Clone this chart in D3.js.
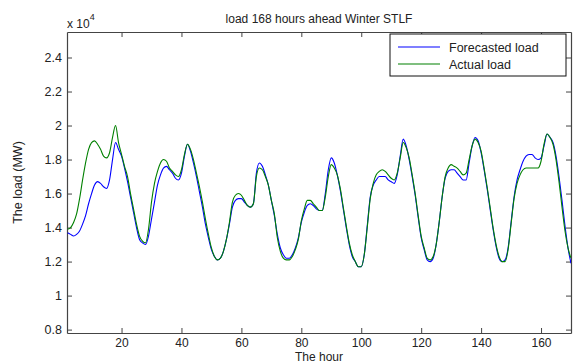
<!DOCTYPE html>
<html>
<head>
<meta charset="utf-8">
<script src="https://cdn.jsdelivr.net/npm/d3@7"></script>
<style>
  body { margin: 0; background: #fff; }
  text { font-family: "Liberation Sans", Arial, sans-serif; fill: #222; }
</style>
</head>
<body>
<div id="chart"></div>
<script>
// hours 2..170, load in units of 10^4 MW
const hours = d3.range(2, 171);

const forecastLoad = [
  1.37, 1.36, 1.35, 1.36, 1.38, 1.42, 1.47, 1.54, 1.60, 1.65, 1.67, 1.66, 1.64, 1.63, 1.68, 1.80, 1.90, 1.86, 1.82,
  1.75, 1.67, 1.58, 1.49, 1.40, 1.33, 1.31, 1.30, 1.35, 1.45, 1.55, 1.65, 1.71, 1.75, 1.76, 1.74, 1.72, 1.69, 1.68,
  1.72, 1.82, 1.89, 1.85, 1.78, 1.70, 1.61, 1.52, 1.42, 1.34, 1.27, 1.23, 1.21, 1.22, 1.26, 1.33, 1.42, 1.52, 1.56,
  1.57, 1.57, 1.55, 1.53, 1.52, 1.54, 1.72, 1.78, 1.76, 1.71, 1.65, 1.56, 1.47, 1.36, 1.28, 1.24, 1.22, 1.22, 1.24,
  1.28, 1.34, 1.43, 1.49, 1.53, 1.54, 1.53, 1.51, 1.50, 1.50, 1.60, 1.74, 1.81, 1.78, 1.71, 1.62, 1.51, 1.40, 1.30,
  1.23, 1.20, 1.17, 1.17, 1.24, 1.41, 1.58, 1.65, 1.68, 1.70, 1.70, 1.70, 1.68, 1.67, 1.66, 1.71, 1.82, 1.92, 1.88,
  1.80, 1.70, 1.59, 1.46, 1.34, 1.27, 1.21, 1.20, 1.22, 1.30, 1.43, 1.58, 1.69, 1.73, 1.74, 1.74, 1.72, 1.70, 1.68,
  1.68, 1.78, 1.88, 1.93, 1.91, 1.84, 1.74, 1.63, 1.51, 1.39, 1.29, 1.22, 1.20, 1.21, 1.28, 1.43, 1.58, 1.68, 1.74,
  1.79, 1.82, 1.83, 1.83, 1.81, 1.80, 1.81, 1.88, 1.95, 1.93, 1.90, 1.82, 1.70, 1.56, 1.41, 1.28, 1.19
];

const actualLoad = [
  1.39, 1.40, 1.43, 1.48, 1.57, 1.68, 1.78, 1.86, 1.90, 1.91, 1.89, 1.86, 1.82, 1.81, 1.84, 1.93, 2.00, 1.90, 1.83,
  1.76, 1.70, 1.60, 1.51, 1.42, 1.35, 1.32, 1.31, 1.39, 1.55, 1.66, 1.73, 1.78, 1.80, 1.79, 1.75, 1.73, 1.71, 1.70,
  1.74, 1.83, 1.89, 1.86, 1.80, 1.72, 1.64, 1.55, 1.45, 1.36, 1.28, 1.23, 1.21, 1.22, 1.26, 1.33, 1.43, 1.55, 1.59,
  1.60, 1.59, 1.56, 1.53, 1.52, 1.54, 1.70, 1.75, 1.74, 1.70, 1.65, 1.56, 1.48, 1.34, 1.26, 1.22, 1.21, 1.21, 1.23,
  1.27, 1.33, 1.44, 1.51, 1.56, 1.56, 1.54, 1.52, 1.50, 1.50, 1.58, 1.70, 1.77, 1.75, 1.71, 1.63, 1.52, 1.41, 1.31,
  1.24, 1.20, 1.17, 1.17, 1.24, 1.40, 1.57, 1.66, 1.71, 1.73, 1.74, 1.73, 1.71, 1.69, 1.68, 1.72, 1.81, 1.90, 1.87,
  1.81, 1.71, 1.60, 1.47, 1.35, 1.28, 1.22, 1.21, 1.23, 1.30, 1.43, 1.58, 1.70, 1.75, 1.77, 1.76, 1.75, 1.73, 1.71,
  1.72, 1.80, 1.88, 1.92, 1.90, 1.85, 1.75, 1.64, 1.52, 1.40, 1.30, 1.23, 1.20, 1.20, 1.27, 1.42, 1.57, 1.66, 1.71,
  1.74, 1.75, 1.75, 1.75, 1.75, 1.75, 1.79, 1.89, 1.95, 1.93, 1.89, 1.80, 1.67, 1.52, 1.38, 1.28, 1.22
];

const xTicks = [20, 40, 60, 80, 100, 120, 140, 160];
const yTicks = [0.8, 1, 1.2, 1.4, 1.6, 1.8, 2, 2.2, 2.4];
const seriesNames = ['Forecasted load', 'Actual load'];
const seriesColors = ['#0000ff', '#008000'];

const W = 573, H = 364;
const margin = { top: 32, right: 2, bottom: 31, left: 67 };
const width = W - margin.left - margin.right;
const height = H - margin.top - margin.bottom;

const svg = d3.select('#chart').append('svg')
  .attr('width', W)
  .attr('height', H);

const g = svg.append('g')
  .attr('transform', `translate(${margin.left},${margin.top})`);

const x = d3.scaleLinear().domain([1.8, 170]).range([0, width]);
const y = d3.scaleLinear().domain([0.78, 2.55]).range([height, 0]);

// clip for the lines
svg.append('defs').append('clipPath').attr('id', 'clip')
  .append('rect').attr('width', width).attr('height', height);

const fmt = d => d3.format('~g')(d);

// bottom + top axes, ticks pointing inward
const xAxis = g.append('g')
  .attr('transform', `translate(0,${height})`)
  .call(d3.axisBottom(x).tickValues(xTicks).tickSizeInner(-5).tickSizeOuter(0).tickPadding(5).tickFormat(fmt));
g.append('g')
  .call(d3.axisTop(x).tickValues(xTicks).tickSizeInner(-5).tickSizeOuter(0).tickFormat(''));

const yAxis = g.append('g')
  .call(d3.axisLeft(y).tickValues(yTicks).tickSizeInner(-5).tickSizeOuter(0).tickPadding(5).tickFormat(fmt));
g.append('g')
  .attr('transform', `translate(${width},0)`)
  .call(d3.axisRight(y).tickValues(yTicks).tickSizeInner(-5).tickSizeOuter(0).tickFormat(''));

g.selectAll('.domain').attr('stroke', '#444').attr('stroke-width', 1.2);
g.selectAll('.tick line').attr('stroke', '#444');
g.selectAll('.tick text')
  .style('font-family', '"Liberation Sans", Arial, sans-serif')
  .attr('fill', '#222');
xAxis.selectAll('.tick text').style('font-size', '12px');
yAxis.selectAll('.tick text').style('font-size', '12.5px');

// lines
const line = d3.line()
  .x((d, i) => x(hours[i]))
  .y(d => y(d))
  .curve(d3.curveMonotoneX);

const plot = g.append('g').attr('clip-path', 'url(#clip)');
[forecastLoad, actualLoad].forEach((vals, k) => {
  plot.append('path')
    .datum(vals)
    .attr('fill', 'none')
    .attr('stroke', seriesColors[k])
    .attr('stroke-width', 1.1)
    .attr('d', line);
});

// title
svg.append('text')
  .attr('x', margin.left + width / 2)
  .attr('y', 23)
  .attr('text-anchor', 'middle')
  .style('font-size', '12px')
  .text('load 168 hours ahead Winter STLF');

// exponent label
const expo = svg.append('text')
  .attr('x', 67)
  .attr('y', 28)
  .style('font-size', '12px');
expo.append('tspan').text('x 10');
expo.append('tspan').attr('dy', -8).style('font-size', '9px').text('4');

// axis labels
svg.append('text')
  .attr('x', margin.left + width / 2)
  .attr('y', 361)
  .attr('text-anchor', 'middle')
  .style('font-size', '12px')
  .text('The hour');

svg.append('text')
  .attr('transform', `translate(22,${margin.top + height / 2}) rotate(-90)`)
  .attr('text-anchor', 'middle')
  .style('font-size', '12.5px')
  .text('The load (MW)');

// legend
const legend = svg.append('g').attr('transform', 'translate(390,34)');
legend.append('rect')
  .attr('width', 176)
  .attr('height', 42)
  .attr('fill', '#fff')
  .attr('stroke', '#111')
  .attr('stroke-width', 1);
seriesNames.forEach((name, k) => {
  const ly = 13 + k * 17;
  legend.append('line')
    .attr('x1', 8).attr('x2', 50)
    .attr('y1', ly).attr('y2', ly)
    .attr('stroke', seriesColors[k])
    .attr('stroke-width', 1.1);
  legend.append('text')
    .attr('x', 59)
    .attr('y', ly + 4.5)
    .style('font-size', '12.5px')
    .text(name);
});
</script>
</body>
</html>
